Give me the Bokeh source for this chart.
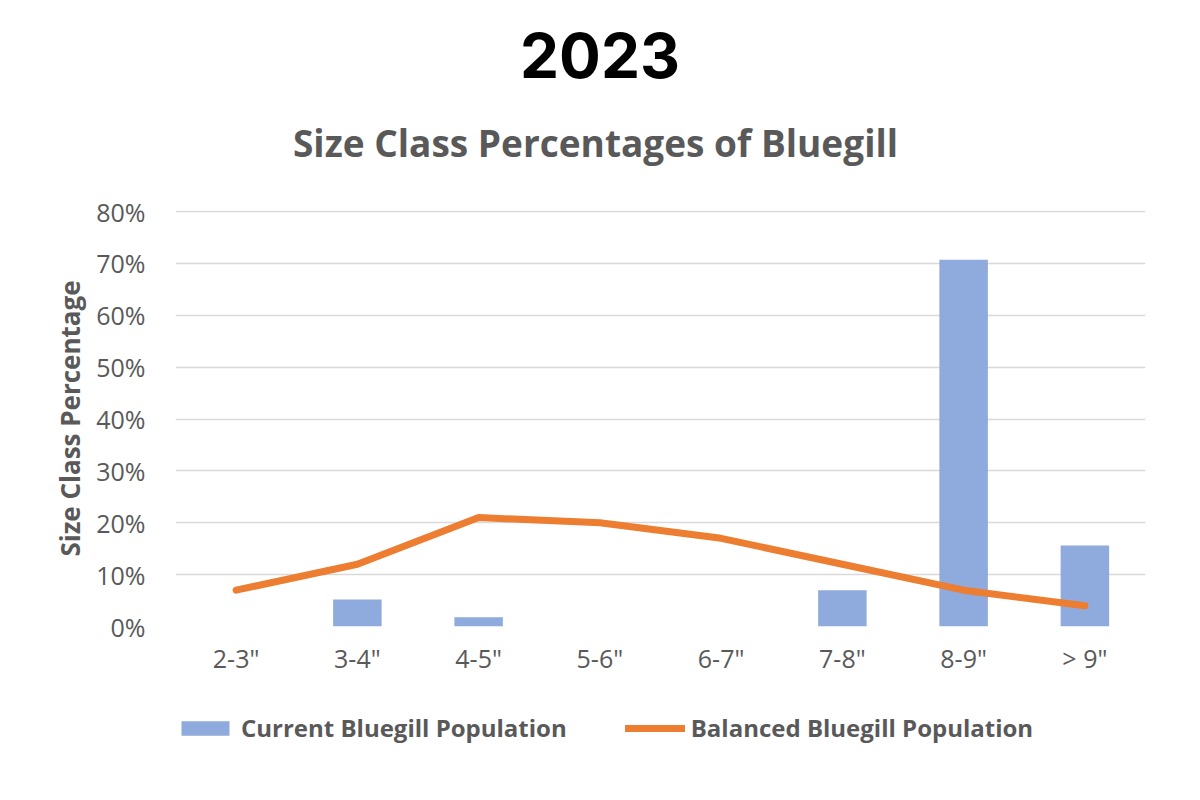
from bokeh.plotting import figure
from bokeh.models import (ColumnDataSource, FactorRange, Range1d, NumeralTickFormatter,
                          Legend, LegendItem, FixedTicker, Div)
from bokeh.layouts import column
from bokeh.embed import file_html
from bokeh.resources import INLINE

categories = ['2-3"', '3-4"', '4-5"', '5-6"', '6-7"', '7-8"', '8-9"', '> 9"']
current_pop = [0.0, 0.052, 0.018, 0.0, 0.0, 0.070, 0.707, 0.156]
balanced_pop = [0.07, 0.12, 0.21, 0.20, 0.17, 0.12, 0.07, 0.04]
y_ticks = [0.0, 0.1, 0.2, 0.3, 0.4, 0.5, 0.6, 0.7, 0.8]
main_title = "2023"
sub_title = "Size Class Percentages of Bluegill"
series_names = ["Current Bluegill Population", "Balanced Bluegill Population"]

GRAY = "#595959"
FONT = "Open Sans"
BAR_COLOR = "#8FAADC"
LINE_COLOR = "#ED7D31"

header = Div(
    text=(f'<div style="width:1200px;text-align:center;margin-top:16px;font-family:Inter;'
          f'font-weight:bold;font-size:62px;line-height:80px;color:black;">{main_title}</div>'
          f'<div style="width:1191px;text-align:center;margin-top:25px;font-family:\'Open Sans\';'
          f'font-weight:bold;font-size:37px;line-height:44px;color:{GRAY};">{sub_title}</div>'),
    width=1200, height=178, margin=0)

src = ColumnDataSource(dict(cat=categories, cur=current_pop, bal=balanced_pop))

p = figure(width=1200, height=499, x_range=FactorRange(*categories, range_padding=0),
           y_range=Range1d(0, 0.802), output_backend="svg", toolbar_location=None,
           min_border_left=175, min_border_right=55, min_border_top=32, min_border_bottom=50,
           margin=0)
p.outline_line_color = None
p.title.visible = False

p.vbar(x="cat", top="cur", width=0.4, source=src, fill_color=BAR_COLOR, line_color=None)
p.line(x="cat", y="bal", source=src, line_color=LINE_COLOR, line_width=7,
       line_cap="round", line_join="round")

p.yaxis.ticker = FixedTicker(ticks=y_ticks)
p.yaxis.formatter = NumeralTickFormatter(format="0%")
for ax in (p.xaxis[0], p.yaxis[0]):
    ax.axis_line_color = None
    ax.major_tick_line_color = None
    ax.minor_tick_line_color = None
    ax.major_label_text_font = FONT
    ax.major_label_text_font_size = "25px"
    ax.major_label_text_color = GRAY
p.yaxis.major_label_standoff = 24
p.xaxis.major_label_standoff = 8
p.yaxis.axis_label = "Size Class Percentage"
p.yaxis.axis_label_text_font = FONT
p.yaxis.axis_label_text_font_size = "26px"
p.yaxis.axis_label_text_font_style = "bold"
p.yaxis.axis_label_text_color = GRAY
p.yaxis.axis_label_standoff = 5

p.xgrid.grid_line_color = None
p.ygrid.ticker = FixedTicker(ticks=y_ticks)
p.ygrid.grid_line_color = "#d9d9d9"
p.ygrid.grid_line_width = 1.5

# legend strip below the chart (same series, drawn off-range so only the legend shows)
lg = figure(width=1200, height=100, x_range=FactorRange(*categories, range_padding=0),
            y_range=Range1d(2, 3), x_axis_type=None, y_axis_type=None,
            output_backend="svg", toolbar_location=None,
            min_border_left=175, min_border_right=55, min_border_top=0, min_border_bottom=0,
            margin=0)
lg.outline_line_color = None
lg.grid.visible = False
lg_bar = lg.vbar(x="cat", top="cur", width=0.4, source=src, fill_color=BAR_COLOR, line_color=None)
lg_line = lg.line(x="cat", y="bal", source=src, line_color=LINE_COLOR, line_width=7,
                  line_cap="round")
legend = Legend(items=[LegendItem(label=series_names[0], renderers=[lg_bar]),
                       LegendItem(label=series_names[1], renderers=[lg_line])],
                orientation="horizontal", location=(0, 33),
                label_text_font=FONT, label_text_font_size="24px",
                label_text_font_style="bold", label_text_color=GRAY, label_height=30,
                glyph_width=60, glyph_height=18, spacing=58, label_standoff=6,
                background_fill_alpha=0, border_line_color=None, margin=0, padding=0)
lg.add_layout(legend, "center")

layout = column(header, p, lg, margin=0, spacing=0)
open("out.html", "w").write(file_html(layout, INLINE))
